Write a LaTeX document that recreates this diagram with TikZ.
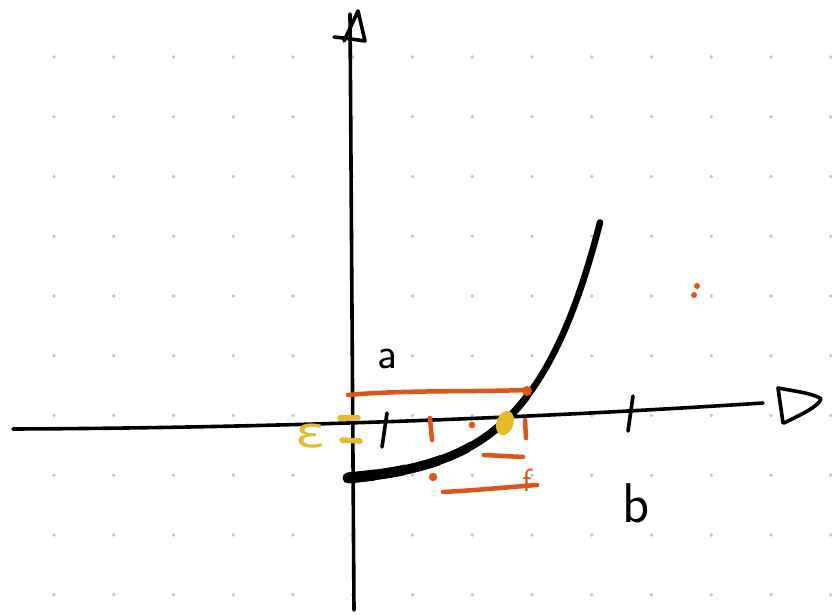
\documentclass[tikz,border=0pt]{standalone}
\usepackage{fontspec}
\newfontfamily\epsfont{DejaVu Sans}
\definecolor{orng}{RGB}{226,83,20}
\definecolor{ylw}{RGB}{232,186,36}
\definecolor{dotc}{RGB}{172,208,208}
\begin{document}
\begin{tikzpicture}[x=1pt,y=-1pt,line cap=round,line join=round,
  ink/.style={draw=black,line width=3.6pt},
  orangeink/.style={draw=orng,line width=4.5pt},
  yellowink/.style={draw=ylw,line width=5.5pt},
  hand/.style={inner sep=0pt}]
\useasboundingbox (0,0) rectangle (835,615);
\fill[white] (0,0) rectangle (835,615);
% dot grid
\foreach \i in {0,...,13}
  \foreach \j in {0,...,10}
    \fill[dotc] (54+59.75*\i,-2.75+59.75*\j) circle (1.8);
% horizontal axis
\coordinate (xl) at (13,429);
\coordinate (xr) at (763,403);
\draw[ink] (xl) .. controls (250,428) and (500,420) .. (xr);
\draw[ink] (783,423) -- (778,388) .. controls (800,392) and (815,394) .. (821,399) .. controls (818,407) and (800,415) .. (784,423);
% vertical axis
\coordinate (yb) at (354,610);
\coordinate (yt) at (350,14);
\draw[ink] (yb) -- (yt);
\draw[ink] (334,37) .. controls (345,38) and (358,40) .. (365,41) -- (358,11) -- (344,41);
% ticks
\draw[ink] (387,413) -- (382,447);
\draw[ink] (633,396) -- (628,431);
% exponential-like curve, tapering from thick (left) to thin (right)
\def\curvepath{plot[domain=348:600,samples=80,smooth] (\x,{478-5.88*(exp(0.015*(\x-347))-1)})}
\draw[line width=6.5pt] \curvepath;
\begin{scope}\clip (0,0) rectangle (530,615); \draw[line width=7.2pt] \curvepath; \end{scope}
\begin{scope}\clip (0,0) rectangle (500,615); \draw[line width=8pt] \curvepath; \end{scope}
\begin{scope}\clip (0,0) rectangle (470,615); \draw[line width=8.8pt] \curvepath; \end{scope}
\begin{scope}\clip (0,0) rectangle (440,615); \draw[line width=9.6pt] \curvepath; \end{scope}
\begin{scope}\clip (0,0) rectangle (405,615); \draw[line width=10.4pt] \curvepath; \end{scope}
\begin{scope}\clip (0,0) rectangle (375,615); \draw[line width=11pt] \curvepath; \end{scope}
% orange marks
\draw[orangeink] (348,395) .. controls (400,390) and (470,392) .. (527,390);
\fill[orng] (527,391) circle (5);
\draw[orangeink] (430,418) -- (432,440);
\fill[orng] (472,425) circle (3.3);
\draw[orangeink] (525,420) -- (526,438);
\draw[orangeink] (484,455) -- (523,457);
\fill[orng] (433,477) circle (4.2);
\draw[orangeink] (443,492) .. controls (480,490) and (510,487) .. (537,485);
\node[hand,text=orng,font=\fontsize{32}{32}\selectfont\sffamily] (f) at (527,480) {f};
\fill[orng] (697,286) circle (3);
\fill[orng] (694,295) circle (3);
% yellow marks
\draw[yellowink] (340,418) -- (358,418);
\draw[yellowink] (342,440) -- (360,441);
\node[hand,text=ylw,font=\fontsize{42}{42}\selectfont\epsfont,xscale=1.35] (eps) at (311,436) {ε};
\fill[ylw,rotate around={-20:(505,423)}] (505,423) ellipse (8.5 and 12.5);
% labels
\node[hand,font=\fontsize{44}{44}\selectfont\sffamily] (a) at (387,359) {a};
\node[hand,font=\fontsize{56}{56}\selectfont\sffamily] (b) at (636,503) {b};
\end{tikzpicture}
\end{document}
